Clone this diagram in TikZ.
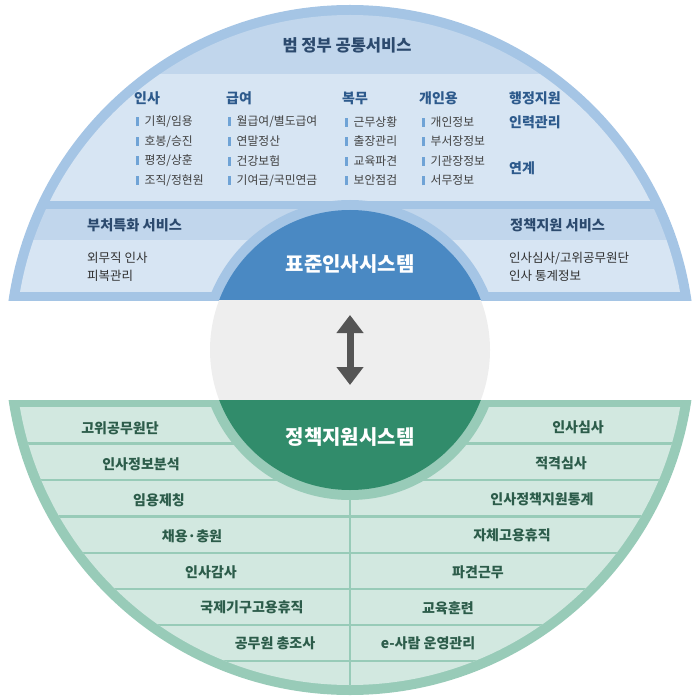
\documentclass[tikz,border=0pt]{standalone}
\usepackage{fontspec}
\setmainfont{Noto Sans CJK KR}
\usetikzlibrary{arrows.meta}
\definecolor{bRing}{HTML}{A5C5E5}
\definecolor{bHdr}{HTML}{C1D6EC}
\definecolor{bCnt}{HTML}{D7E5F3}
\definecolor{bCap}{HTML}{4A89C3}
\definecolor{bTitle}{HTML}{2C4A6E}
\definecolor{bHead}{HTML}{2D5A8C}
\definecolor{bBar}{HTML}{6FA3D6}
\definecolor{itemTxt}{HTML}{404040}
\definecolor{sideTxt}{HTML}{303030}
\definecolor{gRing}{HTML}{98CBB8}
\definecolor{gCnt}{HTML}{D2E8E0}
\definecolor{gCap}{HTML}{318C6B}
\definecolor{gTxt}{HTML}{2C5C4A}
\definecolor{midGray}{HTML}{EEEEEE}
\definecolor{arrGray}{HTML}{555555}
\newcommand\itembar{{\color{bBar}\rule[-0.5pt]{2.5pt}{9pt}}\hspace{6pt}}
\begin{document}
\begin{tikzpicture}[x=1pt,y=-1pt,
  ttl/.style={inner sep=0pt, font=\fontsize{16.5}{19}\selectfont\bfseries, text=bTitle},
  colhead/.style={anchor=west, inner sep=0pt, font=\fontsize{14}{16}\selectfont\bfseries, text=bHead},
  colitem/.style={anchor=west, inner sep=0pt, font=\fontsize{11.8}{13}\selectfont, text=itemTxt},
  sidehead/.style={anchor=west, inner sep=0pt, font=\fontsize{14.2}{16}\selectfont\bfseries, text=bTitle},
  sideitem/.style={anchor=west, inner sep=0pt, font=\fontsize{12.5}{14}\selectfont, text=sideTxt},
  captext/.style={inner sep=0pt, font=\fontsize{20}{23}\selectfont\bfseries, text=white},
  rowtext/.style={inner sep=0pt, font=\fontsize{14}{16}\selectfont\bfseries, text=gTxt},
  rowline/.style={draw=gRing, line width=2.5pt},
  bigarrow/.style={draw=arrGray, line width=7pt, {Triangle[width=26pt,length=18pt]}-{Triangle[width=26pt,length=18pt]}}
]
\useasboundingbox (0,0) rectangle (700,700);

% ---------- top half ----------
\begin{scope}
  \clip (0,0) rectangle (700,300);
  \fill[bRing] (350,350) circle[radius=345pt];
  \begin{scope}
    \clip (350,350) circle[radius=335pt];
    \fill[bHdr] (0,0) rectangle (700,74);
    \fill[bCnt] (0,74) rectangle (700,201);
    \fill[bHdr] (0,209) rectangle (700,240);
    \fill[bCnt] (0,240) rectangle (700,292);
  \end{scope}
  \fill[bRing] (350,350) circle[radius=150pt];
  \fill[bCap] (350,350) circle[radius=140pt];
\end{scope}

% ---------- middle band ----------
\begin{scope}
  \clip (0,300) rectangle (700,400);
  \fill[midGray] (350,350) circle[radius=140pt];
\end{scope}

% ---------- bottom half ----------
\begin{scope}
  \clip (0,400) rectangle (700,700);
  \fill[gRing] (350,350) circle[radius=345pt];
  \begin{scope}
    \clip (350,350) circle[radius=335pt];
    \fill[gCnt] (0,407) rectangle (700,700);
    \foreach \yy in {443.5,479.8,516.5,553,589,625,661}
      \draw[rowline] (0,\yy) -- (700,\yy);
    \draw[draw=gRing, line width=2pt] (350,407) -- (350,700);
  \end{scope}
  \fill[gRing] (350,350) circle[radius=150pt];
  \fill[gCap] (350,350) circle[radius=140pt];
\end{scope}

% ---------- top texts ----------
\node[ttl] (title) at (347,45) {범 정부 공통서비스};

\node[colhead] (hInsa) at (134,98) {인사};
\node[colitem] (i11) at (136,122) {\itembar 기획/임용};
\node[colitem] (i12) at (136,141.5) {\itembar 호봉/승진};
\node[colitem] (i13) at (136,161) {\itembar 평정/상훈};
\node[colitem] (i14) at (136,180.5) {\itembar 조직/정현원};

\node[colhead] (hGeup) at (226,98) {급여};
\node[colitem] (i21) at (228,122) {\itembar 월급여/별도급여};
\node[colitem] (i22) at (228,141.5) {\itembar 연말정산};
\node[colitem] (i23) at (228,161) {\itembar 건강보험};
\node[colitem] (i24) at (228,180.5) {\itembar 기여금/국민연금};

\node[colhead] (hBokmu) at (342,98) {복무};
\node[colitem] (i31) at (345,122) {\itembar 근무상황};
\node[colitem] (i32) at (345,141.5) {\itembar 출장관리};
\node[colitem] (i33) at (345,161) {\itembar 교육파견};
\node[colitem] (i34) at (345,180.5) {\itembar 보안점검};

\node[colhead] (hGaein) at (419,98) {개인용};
\node[colitem] (i41) at (422,122) {\itembar 개인정보};
\node[colitem] (i42) at (422,141.5) {\itembar 부서장정보};
\node[colitem] (i43) at (422,161) {\itembar 기관장정보};
\node[colitem] (i44) at (422,180.5) {\itembar 서무정보};

\node[colhead] (hHaeng) at (509,98) {행정지원};
\node[colhead] (hInryeok) at (509,122) {인력관리};
\node[colhead] (hYeongye) at (509,168) {연계};

\node[sidehead] (sL) at (87,225) {부처특화 서비스};
\node[sideitem] (sL1) at (87,258) {외무직 인사};
\node[sideitem] (sL2) at (87,276) {피복관리};

\node[sidehead] (sR) at (510,225) {정책지원 서비스};
\node[sideitem] (sR1) at (509,258) {인사심사/고위공무원단};
\node[sideitem] (sR2) at (509,276) {인사 통계정보};

\node[captext] (stdSys) at (350,264) {표준인사시스템};
\node[captext] (polSys) at (350,437) {정책지원시스템};

% ---------- arrow ----------
\coordinate (arrTop) at (350,315);
\coordinate (arrBot) at (350,385);
\draw[bigarrow] (arrTop) -- (arrBot);

% ---------- bottom rows ----------
\node[rowtext] (l1) at (120,428) {고위공무원단};
\node[rowtext] (l2) at (141,464) {인사정보분석};
\node[rowtext] (l3) at (159,500) {임용제칭};
\node[rowtext] (l4) at (192,536) {채용·충원};
\node[rowtext] (l5) at (211,572) {인사감사};
\node[rowtext] (l6) at (252,607) {국제기구고용휴직};
\node[rowtext] (l7) at (275,643) {공무원 총조사};

\node[rowtext] (r1) at (578,427) {인사심사};
\node[rowtext] (r2) at (561,463) {적격심사};
\node[rowtext] (r3) at (542,499) {인사정책지원통계};
\node[rowtext] (r4) at (512,535) {자체고용휴직};
\node[rowtext] (r5) at (478,572) {파견근무};
\node[rowtext] (r6) at (448,608) {교육훈련};
\node[rowtext] (r7) at (428,643) {e-사람 운영관리};
\end{tikzpicture}
\end{document}
